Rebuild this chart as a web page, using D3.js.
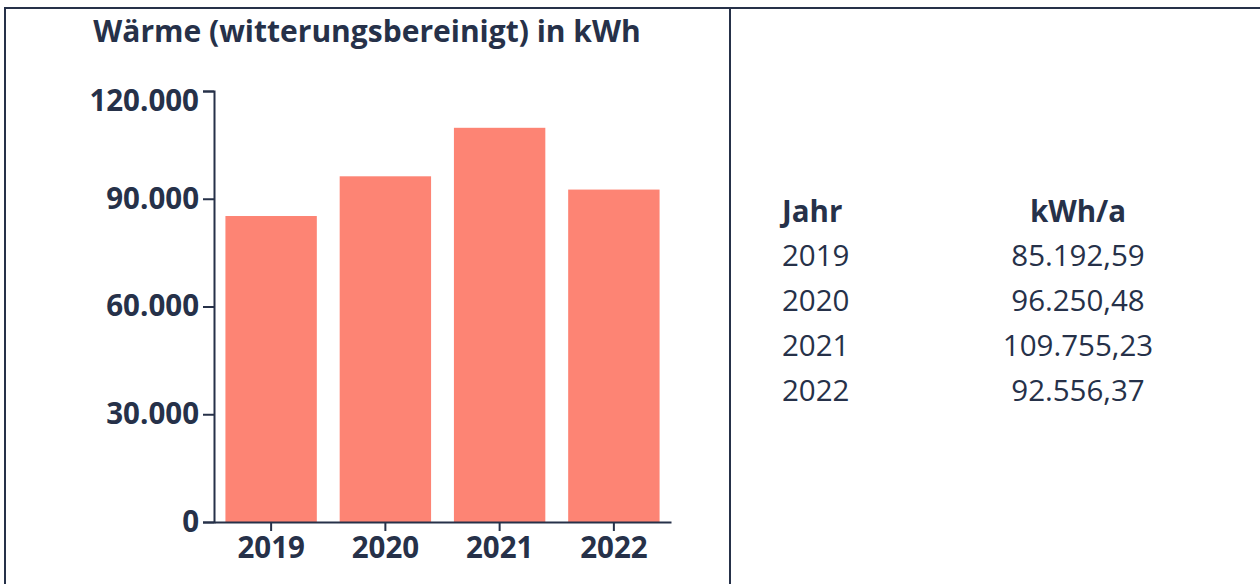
<!DOCTYPE html>
<html>
<head>
<meta charset="utf-8">
<script src="https://cdn.jsdelivr.net/npm/d3@7"></script>
<style>
    body { margin: 0; background: #fff; }
    svg { display: block; font-family: "Open Sans", sans-serif; }
</style>
</head>
<body>
<script>
// data
var years = ["2019", "2020", "2021", "2022"];
var values = [85192.59, 96250.48, 109755.23, 92556.37];
var yTicks = [0, 30000, 60000, 90000, 120000];
var title = "Wärme (witterungsbereinigt) in kWh";
var tableHeader = ["Jahr", "kWh/a"];

var ink = "#263149";
var barColor = "#fd8474";

var de = d3.formatLocale({decimal: ",", thousands: ".", grouping: [3], currency: ["", " €"]});
var fmtTick = de.format(",.0f");
var fmtVal = de.format(",.2f");

var svg = d3.select("body").append("svg")
    .attr("width", 1260)
    .attr("height", 584);

// frame lines (table borders)
svg.append("line").attr("x1", 4).attr("x2", 1260).attr("y1", 8).attr("y2", 8)
    .style("stroke", ink).style("stroke-width", 2);
svg.append("line").attr("x1", 5).attr("x2", 5).attr("y1", 7).attr("y2", 584)
    .style("stroke", ink).style("stroke-width", 2);
svg.append("line").attr("x1", 730).attr("x2", 730).attr("y1", 7).attr("y2", 584)
    .style("stroke", ink).style("stroke-width", 2);

// title
svg.append("text")
    .attr("x", 367)
    .attr("y", 42)
    .attr("text-anchor", "middle")
    .style("font-size", "30px")
    .style("font-weight", 700)
    .style("fill", ink)
    .text(title);

var x = d3.scaleBand()
    .domain(years)
    .range([214, 671])
    .paddingInner(0.2)
    .paddingOuter(0.1);

var y = d3.scaleLinear()
    .domain([0, 120000])
    .range([522, 91]);

svg.selectAll("rect.bar")
    .data(values)
    .enter()
    .append("rect")
    .attr("class", "bar")
    .attr("x", function (d, i) { return x(years[i]); })
    .attr("y", function (d) { return y(d); })
    .attr("width", x.bandwidth())
    .attr("height", function (d) { return y(0) - y(d); })
    .style("fill", barColor);

var yAxis = d3.axisLeft(y)
    .tickValues(yTicks)
    .tickFormat(fmtTick)
    .tickSize(11)
    .tickPadding(4);
var yG = svg.append("g")
    .attr("transform", "translate(214,0)")
    .call(yAxis);

var xAxis = d3.axisBottom(x)
    .tickSize(9)
    .tickSizeOuter(0)
    .tickPadding(6);
var xG = svg.append("g")
    .attr("transform", "translate(0,522)")
    .call(xAxis);

[yG, xG].forEach(function (g) {
    g.selectAll("path, line").style("stroke", ink).style("stroke-width", 2);
    g.selectAll("text")
        .style("font-family", "'Open Sans', sans-serif")
        .style("font-size", "29.5px")
        .style("font-weight", 700)
        .style("fill", ink);
});
// top label sits inside the frame
yG.selectAll(".tick text").filter(function (d) { return d === 120000; })
    .attr("dy", "0.32em").attr("y", 10);

// table
var colJahr = 782, colVal = 1078;
var table = svg.append("g").style("fill", ink).style("font-size", "29.5px");

table.append("text").attr("x", colJahr).attr("y", 222)
    .style("font-weight", 700).text(tableHeader[0]);
table.append("text").attr("x", colVal).attr("y", 222)
    .attr("text-anchor", "middle")
    .style("font-weight", 700).text(tableHeader[1]);

table.selectAll("text.jahr")
    .data(years)
    .enter()
    .append("text")
    .attr("class", "jahr")
    .attr("x", colJahr)
    .attr("y", function (d, i) { return 266 + i * 45; })
    .text(function (d) { return d; });

table.selectAll("text.val")
    .data(values)
    .enter()
    .append("text")
    .attr("class", "val")
    .attr("x", colVal)
    .attr("y", function (d, i) { return 266 + i * 45; })
    .attr("text-anchor", "middle")
    .text(function (d) { return fmtVal(d); });
</script>
</body>
</html>
